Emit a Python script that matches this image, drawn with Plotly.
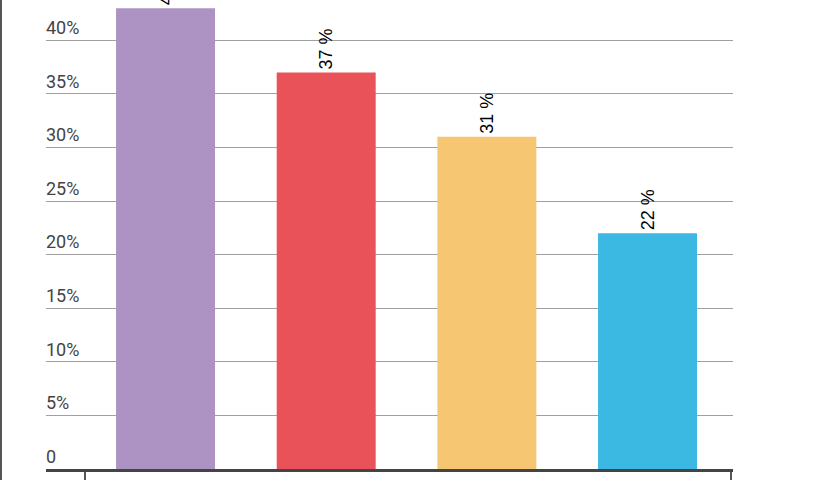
import plotly.graph_objects as go

categories = ["A", "B", "C", "D"]
values = [43, 37, 31, 22]
labels = ["43 %", "37 %", "31 %", "22 %"]
colors = ["#AD93C3", "#E85258", "#F7C673", "#3BB9E3"]
ytick_vals = [0, 5, 10, 15, 20, 25, 30, 35, 40]
ytick_text = ["0", "5%", "10%", "15%", "20%", "25%", "30%", "35%", "40%"]

fig = go.Figure()
fig.add_trace(go.Bar(
    x=list(range(len(categories))),
    y=values,
    text=labels,
    textposition="outside",
    textangle=-90,
    textfont=dict(family="Liberation Sans, Arial", size=18, color="#000"),
    cliponaxis=False,
    marker=dict(color=colors, line=dict(width=0)),
    hoverinfo="skip",
))

fig.update_layout(
    width=825, height=480,
    margin=dict(l=46, r=92, t=0, b=11),
    paper_bgcolor="white", plot_bgcolor="white",
    bargap=0.384,
    showlegend=False,
    font=dict(family="Roboto", size=18, color="#444"),
    xaxis=dict(
        range=[-0.744, 3.532],
        tickvals=[-0.5, 3.52],
        ticktext=["", ""],
        ticks="outside", ticklen=12, tickwidth=2, tickcolor="#555",
        showgrid=False, zeroline=False,
        showline=True, linewidth=3, linecolor="#444",
    ),
    yaxis=dict(
        range=[0, 43.77],
        tickvals=ytick_vals,
        ticktext=ytick_text,
        ticklabelposition="inside top",
        ticklabelstandoff=-3,
        showgrid=True, gridcolor="#a0a0a0", gridwidth=1,
        zeroline=False, showline=False, ticks="",
        tickfont=dict(family="Roboto", size=18, color="#444"),
    ),
    shapes=[dict(type="line", xref="paper", yref="paper",
                 x0=-45/687, x1=-45/687, y0=-0.1, y1=1.1,
                 line=dict(color="#555", width=2))],
)

fig.write_html("out.html", config={"displayModeBar": False},
               post_script="document.body.style.margin='0';document.body.style.overflow='hidden';")
